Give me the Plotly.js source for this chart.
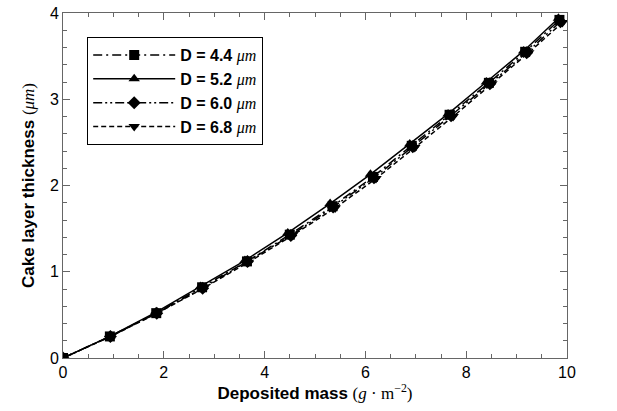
<!DOCTYPE html>
<html>
<head>
<meta charset="utf-8">
<script src="https://cdn.plot.ly/plotly-3.0.1.min.js"></script>
<style>html,body{margin:0;padding:0;background:#fff;}#chart{width:617px;height:411px;}</style>
</head>
<body>
<div id="chart"></div>
<script>
// Deposited mass (g·m^-2) and cake layer thickness (µm) per particle diameter
var seriesNames = ["D = 4.4", "D = 5.2", "D = 6.0", "D = 6.8"];
var x44 = [0, 0.93, 1.85, 2.76, 3.65, 4.50, 5.35, 6.15, 6.92, 7.67, 8.45, 9.17, 9.85];
var y44 = [0, 0.25, 0.52, 0.82, 1.12, 1.43, 1.76, 2.10, 2.46, 2.82, 3.19, 3.55, 3.92];
var x52 = [0, 0.93, 1.84, 2.73, 3.61, 4.46, 5.30, 6.10, 6.88, 7.64, 8.40, 9.14, 9.83];
var y52 = [0, 0.25, 0.53, 0.83, 1.13, 1.45, 1.79, 2.13, 2.48, 2.83, 3.20, 3.56, 3.94];
var x60 = [0, 0.94, 1.86, 2.77, 3.66, 4.52, 5.36, 6.17, 6.94, 7.70, 8.47, 9.20, 9.87];
var y60 = [0, 0.25, 0.52, 0.81, 1.12, 1.42, 1.75, 2.09, 2.45, 2.81, 3.18, 3.54, 3.90];
var x68 = [0, 0.95, 1.87, 2.79, 3.68, 4.55, 5.40, 6.21, 6.98, 7.74, 8.51, 9.24, 9.91];
var y68 = [0, 0.25, 0.52, 0.81, 1.11, 1.42, 1.74, 2.08, 2.44, 2.80, 3.18, 3.54, 3.89];
var xTickVals = [0, 2, 4, 6, 8, 10];
var yTickVals = [0, 1, 2, 3, 4];

var unit = " <span style='font-family:Liberation Serif;font-weight:normal'><i>\u03bcm</i></span>";
function tr(x, y, name, sym, dash) {
  return {
    x: x, y: y, type: 'scatter', mode: 'lines+markers',
    name: '<b>' + name + '</b>' + unit,
    line: {color: '#000', width: 1.5, dash: dash},
    marker: {symbol: sym, size: 10, color: '#000'}
  };
}
var data = [
  tr(x44, y44, seriesNames[0], 'square', '9px,4px,2px,4px'),
  tr(x52, y52, seriesNames[1], 'triangle-up', 'solid'),
  tr(x60, y60, seriesNames[2], 'diamond', '9px,3px,2px,3px,2px,3px'),
  tr(x68, y68, seriesNames[3], 'triangle-down', '5px,3px')
];
var axisCommon = {
  showgrid: false, zeroline: false, showline: true, linecolor: '#666', linewidth: 1,
  mirror: 'allticks', ticks: 'inside', ticklen: 7, tickcolor: '#666', tickwidth: 1,
  tickfont: {family: 'Liberation Sans, Arial', size: 16, color: '#000'}
};
var layout = {
  width: 617, height: 411,
  margin: {l: 63, r: 50, t: 13, b: 53},
  paper_bgcolor: '#fff', plot_bgcolor: '#fff',
  showlegend: true,
  xaxis: Object.assign({}, axisCommon, {
    range: [0, 10], tickvals: xTickVals, ticktext: xTickVals.map(String),
    automargin: true,
    minor: {dtick: 0.5, ticks: 'inside', ticklen: 4, tickcolor: '#666'},
    title: {text: "<b>Deposited mass</b> <span style='font-family:Liberation Serif'>(<i>g</i> \u00b7 m<sup>\u22122</sup>)</span>",
            font: {family: 'Liberation Sans, Arial', size: 17, color: '#000'}, standoff: 3}
  }),
  yaxis: Object.assign({}, axisCommon, {
    range: [0, 4], tickvals: yTickVals, ticktext: yTickVals.map(String),
    minor: {dtick: 0.2, ticks: 'inside', ticklen: 4, tickcolor: '#666'},
    title: {text: "<b>Cake layer thickness</b> <span style='font-family:Liberation Serif'>(<i>\u03bcm</i>)</span>",
            font: {family: 'Liberation Sans, Arial', size: 17, color: '#000'}, standoff: 10}
  }),
  legend: {
    x: 0.048, y: 0.93, xanchor: 'left', yanchor: 'top',
    bordercolor: '#000', borderwidth: 1, bgcolor: '#fff',
    font: {family: 'Liberation Sans, Arial', size: 16, color: '#000'},
    itemwidth: 82, tracegroupgap: 0
  }
};
Plotly.newPlot('chart', data, layout, {displayModeBar: false, staticPlot: true});
</script>
</body>
</html>
